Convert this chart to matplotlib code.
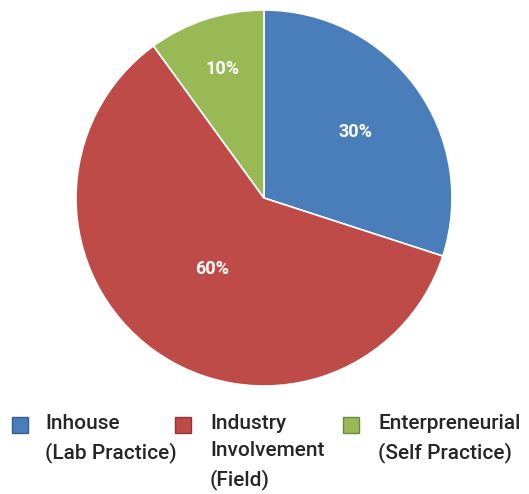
import numpy as np
import matplotlib.pyplot as plt
from matplotlib.patches import Rectangle

# data
categories = ['Inhouse\n(Lab Practice)', 'Industry\nInvolvement\n(Field)', 'Enterpreneurial\n(Self Practice)']
shares = [30, 60, 10]
colors = ['#4A7EBB', '#BE4B48', '#98B954']
edge_colors = ['#385D8A', '#8C3836', '#71893F']

W, H = 529, 494
fig = plt.figure(figsize=(W / 100, H / 100), dpi=100)
plt.rcParams['font.family'] = ['Roboto', 'DejaVu Sans']

# pie centred at (264,198) px, radius 188 px
cx, cy, r = 264, 198, 188
ax = fig.add_axes([(cx - r) / W, (H - cy - r) / H, 2 * r / W, 2 * r / H])
wedges, _ = ax.pie(shares, colors=colors, startangle=90, counterclock=False,
                   radius=1, wedgeprops=dict(edgecolor='white', linewidth=1.2))
ax.set_xlim(-1, 1)
ax.set_ylim(-1, 1)
ax.set_aspect('equal')
ax.axis('off')

# percentage labels at per-slice distances
label_dist = [0.6, 0.47, 0.72]
for w, s, d in zip(wedges, shares, label_dist):
    ang = np.deg2rad((w.theta1 + w.theta2) / 2)
    ax.text(d * np.cos(ang), d * np.sin(ang), f'{s}%', color='white',
            fontsize=13, fontweight='bold', ha='center', va='center')

# legend drawn by hand so markers line up with first text line
marker_x = [12, 175, 343]
text_x = [45, 210, 378]
top_y = 425
for lab, c, ec, mx, tx in zip(categories, colors, edge_colors, marker_x, text_x):
    fig.add_artist(Rectangle((mx / W, (H - top_y - 8) / H), 16 / W, 16 / H,
                             facecolor=c, edgecolor=ec, linewidth=1,
                             transform=fig.transFigure))
    fig.text(tx / W, (H - top_y + 11) / H, lab, fontsize=15, fontweight='medium',
             color='#262626', ha='left', va='top', linespacing=1.55)

plt.savefig('out.png', dpi=100)
